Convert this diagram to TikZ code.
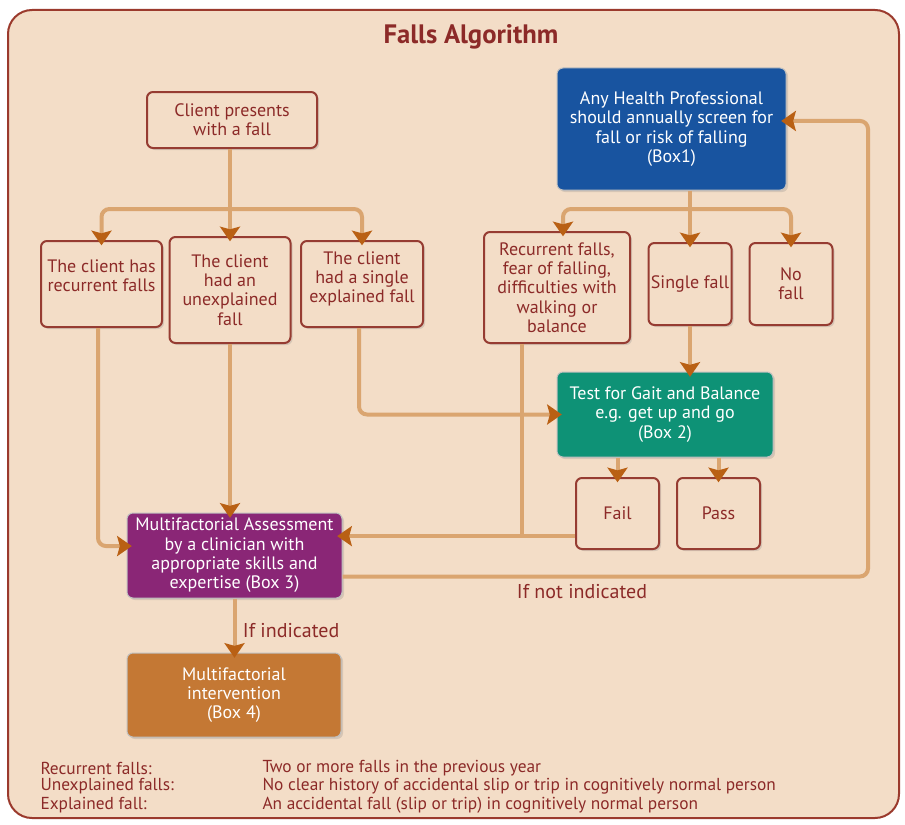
\documentclass[tikz,border=0pt]{standalone}
\usepackage{fontspec}
\setmainfont{PT Sans}
\usetikzlibrary{arrows.meta,shadows,calc}

\definecolor{framec}{RGB}{155,58,45}
\definecolor{bgc}{RGB}{243,221,199}
\definecolor{boxline}{RGB}{150,60,50}
\definecolor{textc}{RGB}{140,42,40}
\definecolor{flowc}{RGB}{218,165,112}
\definecolor{tipc}{RGB}{185,96,20}
\definecolor{bluec}{RGB}{24,84,160}
\definecolor{greenc}{RGB}{14,146,118}
\definecolor{purplec}{RGB}{138,38,118}
\definecolor{orangec}{RGB}{196,120,52}

\tikzset{every picture/.style={line width=0.75pt}}
\tikzset{
	lightbox/.style={draw=boxline, fill=bgc, line width=1.5pt, rounded corners=4.5pt, align=center, text=textc,
		font=\fontsize{13.5}{14.5}\selectfont, inner sep=1pt,
		drop shadow={opacity=0.25, shadow xshift=1.5pt, shadow yshift=-1.5pt}},
	darkbox/.style={lightbox, draw=white!75!black, line width=0.75pt, text=white},
	flow/.style={draw=flowc, line width=3pt, rounded corners=6pt},
	flowarrow/.style={flow, -{Stealth[inset=2pt, length=11pt, width=15pt, color=tipc]}, shorten >=-4pt},
	labeltext/.style={text=textc, font=\fontsize{15}{17}\selectfont},
	legendtext/.style={text=textc, anchor=west, inner sep=0pt, font=\fontsize{13}{15}\selectfont},
}

\begin{document}
\begin{tikzpicture}[x=0.75pt,y=0.75pt,yscale=-1,xscale=1]
	\useasboundingbox (0,0) rectangle (905,824);
	
	%Shape: Frame
	\draw [draw=framec, fill=bgc, line width=1.5pt, rounded corners=18pt] (8,10) rectangle (899,818);
	% Text Node
	\node [text=textc, font=\fontsize{20}{22}\selectfont\bfseries] (title) at (471,37) {Falls Algorithm};
	
	%Shape: Boxes, left branch
	\node [lightbox, minimum width=127.5pt, minimum height=42pt] (client) at (232,120) {Client presents\\with a fall};
	\node [lightbox, minimum width=90.75pt, minimum height=64.5pt] (recur) at (101.5,284) {The client has\\recurrent falls\\[-2pt]};
	\node [lightbox, minimum width=90.75pt, minimum height=79.5pt] (unexpl) at (230,290) {The client\\had an\\unexplained\\fall};
	\node [lightbox, minimum width=91.5pt, minimum height=64.5pt] (explained) at (362,284) {The client\\had a single\\explained fall\\[-4pt]};
	
	%Shape: Boxes, right branch
	\node [darkbox, fill=bluec, minimum width=171.75pt, minimum height=91.5pt] (box1) at (671.5,129) {Any Health Professional\\should annually screen for\\fall or risk of falling\\(Box1)};
	\node [lightbox, minimum width=109.5pt, minimum height=83.25pt] (riskbox) at (557,287.5) {Recurrent falls,\\fear of falling,\\difficulties with\\walking or\\balance};
	\node [lightbox, minimum width=62.25pt, minimum height=61.5pt] (singlefall) at (690,284) {Single fall};
	\node [lightbox, minimum width=62.25pt, minimum height=61.5pt] (nofall) at (791,284) {No\\fall};
	\node [darkbox, fill=greenc, minimum width=162pt, minimum height=63.75pt] (gait) at (665,414.5) {Test for Gait and Balance\\e.g. get up and go\\(Box 2)};
	\node [lightbox, minimum width=62.25pt, minimum height=53.25pt] (fail) at (617.5,513.5) {Fail};
	\node [lightbox, minimum width=62.25pt, minimum height=53.25pt] (pass) at (718.5,513.5) {Pass};
	
	%Shape: Boxes, assessment
	\node [darkbox, fill=purplec, minimum width=161.25pt, minimum height=63.75pt] (assess) at (234.5,555.5) {Multifactorial Assessment\\by a clinician with\\appropriate skills and\\expertise (Box 3)};
	\node [darkbox, fill=orangec, minimum width=160.5pt, minimum height=63pt] (interv) at (234,695) {Multifactorial\\intervention\\(Box 4)};
	
	%Straight Lines: client split
	\coordinate (split1) at ($(unexpl.north)+(0,-27)$);
	\draw [flow] (client.south -| split1) -- (split1);
	\draw [flowarrow] (split1) -| (recur.north);
	\draw [flowarrow] (split1) -- (unexpl.north);
	\draw [flowarrow] (split1) -| (explained.north);
	
	%Straight Lines: screening split
	\coordinate (split2) at ($(singlefall.north)+(0,-33)$);
	\draw [flow] (box1.south -| split2) -- (split2);
	\draw [flowarrow] (split2) -| ([xshift=4.5pt]riskbox.north);
	\draw [flowarrow] (split2) -- (singlefall.north);
	\draw [flowarrow] (split2) -| (nofall.north);
	\draw [flowarrow] (singlefall.south) -- (singlefall.south |- gait.north);
	
	%Straight Lines: into assessment
	\draw [flowarrow] (recur.south -| 98,0) |- (assess.175);
	\draw [flowarrow] (unexpl.south) -- (unexpl.south |- assess.north);
	\draw [flowarrow] (explained.south -| 359,0) |- (gait.west);
	\coordinate (j1) at ($(riskbox.south)+(-35,0)$);
	\draw [flow] (j1) -- (j1 |- fail.208);
	\draw [flowarrow] (fail.208) -- (assess.east |- fail.208);
	
	%Straight Lines: test results
	\draw [flowarrow] (gait.south -| fail.north) -- (fail.north);
	\draw [flowarrow] (gait.south -| pass.north) -- (pass.north);
	
	%Straight Lines: loop back and intervention
	\coordinate (back) at (868,350);
	\draw [flowarrow] (assess.-11) -| (back) |- (box1.4);
	\draw [flowarrow] (assess.south) -- (assess.south |- interv.north);
	
	% Text Node
	\node [labeltext, anchor=west] (notind) at (512,592) {If not indicated};
	% Text Node
	\node [labeltext, anchor=west] (ind) at (238,631) {If indicated};
	
	% Text Node: legend
	\node [legendtext] (legA) at (40,768) {Recurrent falls:};
	\node [legendtext] (legB) at (40,786.5) {Unexplained falls:};
	\node [legendtext] (legC) at (40,805) {Explained fall:};
	\node [legendtext] (defA) at (262,768) {Two or more falls in the previous year};
	\node [legendtext] (defB) at (262,786.5) {No clear history of accidental slip or trip in cognitively normal person};
	\node [legendtext] (defC) at (262,805) {An accidental fall (slip or trip) in cognitively normal person};
	
\end{tikzpicture}
\end{document}
